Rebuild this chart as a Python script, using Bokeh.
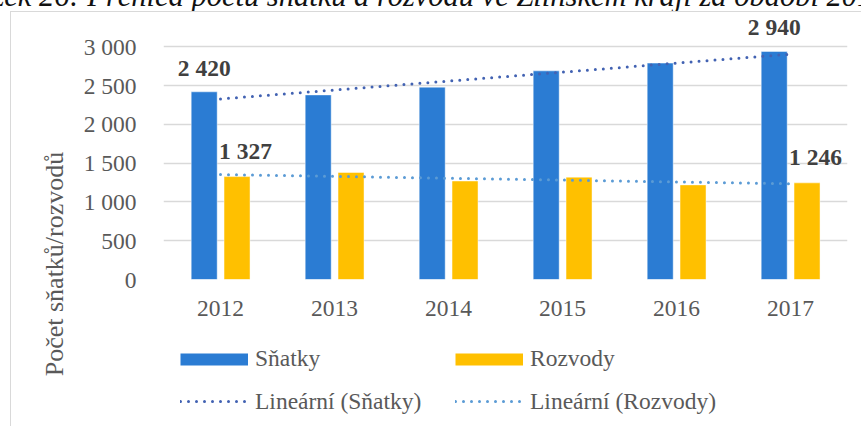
import numpy as np
from bokeh.plotting import figure
from bokeh.layouts import column, row
from bokeh.models import (ColumnDataSource, Range1d, FixedTicker, Legend,
                          LegendItem, Div)
from bokeh.transform import dodge
from bokeh.core.properties import value
from bokeh.embed import file_html
from bokeh.resources import INLINE

# ---------------- data ----------------
years = ["2012", "2013", "2014", "2015", "2016", "2017"]
snatky = [2420, 2380, 2480, 2690, 2790, 2940]
rozvody = [1327, 1380, 1270, 1320, 1220, 1246]
y_ticks = [0, 500, 1000, 1500, 2000, 2500, 3000]
y_tick_labels = ["0", "500", "1 000", "1 500", "2 000", "2 500", "3 000"]
series_names = ["Sňatky", "Rozvody"]
trend_names = ["Lineární (Sňatky)", "Lineární (Rozvody)"]
labelled_idx = [0, 5]
y_title = "Počet sňatků/rozvodů"
caption = "Obrázek 26: Přehled počtu sňatků a rozvodů ve Zlínském kraji za období 2012–2017"

# ---------------- styles ----------------
BLUE = "#2B7CD3"
GOLD = "#FFC000"
TREND_S = "#4262B2"
TREND_R = "#5B9BD5"
GRID = "#D9D9D9"
TXT = "#595959"
FONT = "Liberation Serif"
FS = "23.5px"

def fmt(v):
    return f"{v:,}".replace(",", " ")

xi = np.arange(len(years))
trend_s = np.polyval(np.polyfit(xi, snatky, 1), xi)
trend_r = np.polyval(np.polyfit(xi, rozvody, 1), xi)

src = ColumnDataSource(dict(year=years, snatky=snatky, rozvody=rozvody,
                            trend_s=trend_s, trend_r=trend_r))
lab = ColumnDataSource(dict(
    year=[years[i] for i in labelled_idx],
    s=[snatky[i] for i in labelled_idx],
    s_txt=[fmt(snatky[i]) for i in labelled_idx],
    r=[rozvody[i] for i in labelled_idx],
    r_txt=[fmt(rozvody[i]) for i in labelled_idx],
))

PAGE_W, PAGE_H = 861, 426
PLOT_W = 853
CAP_H = 12          # caption strip height (page y 0..12)
LEFT_W = 80         # y-title strip width (page x 0..80)
MAIN_H = 327        # main plot canvas height (page y 12..339)
LEG_H = 418 - CAP_H - MAIN_H
RIGHT_W = PLOT_W - LEFT_W
FRAME_LEFT = 162    # page x of the plot frame's left edge

# caption strip, text cut at the top edge like the reference; chart border top line
cap = Div(text=(
    f'<div style="position:relative;width:{PAGE_W}px;height:{CAP_H}px;overflow:hidden">'
    f'<div style="position:absolute;left:-72px;top:-19px;white-space:nowrap;'
    f'font-family:\'{FONT}\';font-style:italic;font-size:30.5px;line-height:31px;'
    f'color:#111">{caption}</div>'
    f'<div style="position:absolute;left:10px;top:11px;width:{PAGE_W}px;height:1px;'
    f'background:{GRID}"></div></div>'),
    width=PAGE_W, height=CAP_H, margin=0)

# y-axis title strip with the chart border's left line
ytitle = Div(text=(
    f'<div style="position:relative;width:{LEFT_W}px;height:{PAGE_H - CAP_H}px;overflow:hidden">'
    f'<div style="position:absolute;left:10px;top:0;width:1px;height:{PAGE_H}px;'
    f'background:{GRID}"></div>'
    f'<div style="position:absolute;left:54.5px;top:252px;white-space:nowrap;'
    f'transform:translate(-50%,-50%) rotate(-90deg);font-family:\'{FONT}\';'
    f'font-size:26px;line-height:26px;color:{TXT}">{y_title}</div></div>'),
    width=LEFT_W, height=PAGE_H - CAP_H, margin=0)

# main plot: frame page y 12 (top) .. 279 (value 0); 3000 at page y 46.67
frame_h = 267
px_per_unit = 232.67 / 3000
y_top = frame_h / px_per_unit

p = figure(x_range=years, y_range=Range1d(0, y_top), width=RIGHT_W, height=MAIN_H,
           output_backend="svg", toolbar_location=None, margin=0,
           min_border_left=FRAME_LEFT - LEFT_W, min_border_right=6, min_border_top=0,
           min_border_bottom=MAIN_H - frame_h)
p.outline_line_color = None
p.background_fill_color = "white"
p.border_fill_alpha = 0

p.vbar(x=dodge("year", -0.143, range=p.x_range), top="snatky", width=0.228,
       source=src, fill_color=BLUE, line_color="white", line_alpha=0.45)
p.vbar(x=dodge("year", 0.145, range=p.x_range), top="rozvody", width=0.228,
       source=src, fill_color=GOLD, line_color="white", line_alpha=0.45)

p.line(x="year", y="trend_s", source=src, line_color=TREND_S,
       line_width=3, line_dash="0 8", line_cap="round")
p.line(x="year", y="trend_r", source=src, line_color=TREND_R,
       line_width=3, line_dash="0 8", line_cap="round")

p.text(x=dodge("year", -0.143, range=p.x_range), y="s", text="s_txt", source=lab,
       text_align="center", text_baseline="alphabetic", y_offset=-24,
       text_font=value(FONT), text_font_size=FS, text_font_style="bold",
       text_color="#404040")
p.text(x=dodge("year", 0.145, range=p.x_range), y="r", text="r_txt", source=lab,
       text_align="center", text_baseline="alphabetic", x_offset=8.5, y_offset=-26,
       text_font=value(FONT), text_font_size=FS, text_font_style="bold",
       text_color="#404040")

for ax in (p.xaxis, p.yaxis):
    ax.axis_line_color = None
    ax.major_tick_line_color = None
    ax.minor_tick_line_color = None
    ax.major_tick_out = 0
    ax.major_tick_in = 0
    ax.major_label_text_font = FONT
    ax.major_label_text_font_size = FS
    ax.major_label_text_color = TXT
p.xaxis.major_label_standoff = 21
p.yaxis.major_label_standoff = 27
p.yaxis.ticker = FixedTicker(ticks=y_ticks)
p.yaxis.major_label_overrides = {t: l for t, l in zip(y_ticks, y_tick_labels)}
p.xgrid.grid_line_color = None
p.ygrid.grid_line_color = GRID
p.ygrid.grid_line_width = 1.5

# legend strip (page y 339..418); its frame is aligned with the main frame
lg = figure(width=RIGHT_W, height=LEG_H, output_backend="svg", toolbar_location=None,
            x_axis_type=None, y_axis_type=None, min_border=0, margin=0)
lg.outline_line_color = None
lg.background_fill_alpha = 0
lg.border_fill_alpha = 0
lg.xgrid.visible = False
lg.ygrid.visible = False
nan = np.array([np.nan])
sw_s = lg.line(x=nan, y=nan, line_color=BLUE, line_width=12, line_cap="butt")
sw_r = lg.line(x=nan, y=nan, line_color=GOLD, line_width=12, line_cap="butt")
ln_s = lg.line(x=nan, y=nan, line_color=TREND_S, line_width=3, line_dash="0 8",
               line_cap="round")
ln_r = lg.line(x=nan, y=nan, line_color=TREND_R, line_width=3, line_dash="0 8",
               line_cap="round")

def legend_row(items, loc):
    return Legend(items=[LegendItem(label=l, renderers=[r]) for r, l in items],
                  location=loc, orientation="horizontal", padding=0, margin=0,
                  spacing=0, glyph_width=68, glyph_height=30, label_height=30,
                  label_width=200, label_standoff=7, border_line_color=None,
                  background_fill_alpha=0, label_text_font=FONT,
                  label_text_font_size=FS, label_text_color=TXT)

lg.add_layout(legend_row([(sw_s, series_names[0]), (sw_r, series_names[1])],
                         (179 - FRAME_LEFT, 44.3)))
lg.add_layout(legend_row([(ln_s, trend_names[0]), (ln_r, trend_names[1])],
                         (179 - FRAME_LEFT, 1.7)))

layout = column(cap, row(ytitle, column(p, lg, spacing=0), spacing=0), spacing=0)

open("out.html", "w").write(file_html(layout, INLINE))
